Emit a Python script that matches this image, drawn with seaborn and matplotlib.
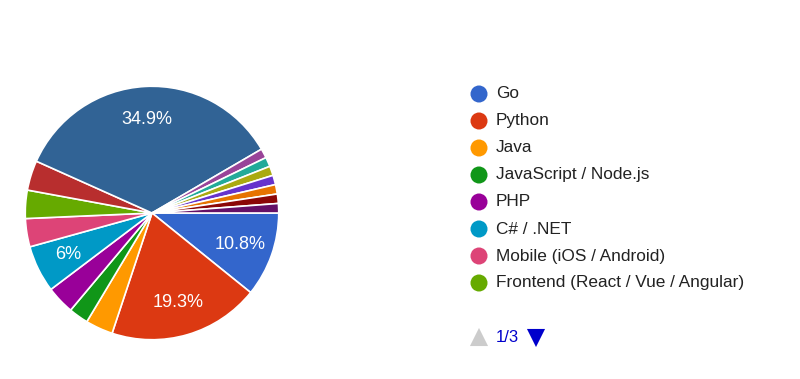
import matplotlib
matplotlib.use("Agg")
import matplotlib.pyplot as plt
import seaborn as sns

# Dados (percentuais, sentido horário a partir das 3 horas)
categorias = [
    "Go", "Python", "Java", "JavaScript / Node.js", "PHP", "C# / .NET",
    "Mobile (iOS / Android)", "Frontend (React / Vue / Angular)",
    "Outro 9", "Outro 10", "Outro 11", "Outro 12", "Outro 13",
    "Outro 14", "Outro 15", "Outro 16", "Outro 17",
]
valores = [10.8, 19.3, 3.5, 2.5, 3.6, 6.0, 3.6, 3.6, 3.8, 34.9,
           1.2, 1.2, 1.2, 1.2, 1.2, 1.2, 1.2]
cores = ["#3366cc", "#dc3912", "#ff9900", "#109618", "#990099", "#0099c6",
         "#dd4477", "#66aa00", "#b82e2e", "#316395", "#994499", "#22aa99",
         "#aaaa11", "#6633cc", "#e67300", "#8b0707", "#651067"]
n_legenda = 8
pagina = "1/3"

sns.set_theme(style="white")
plt.rcParams["font.family"] = ["Liberation Sans", "DejaVu Sans"]

fig = plt.figure(figsize=(8, 3.79), dpi=100)

# Pizza
ax = fig.add_axes([24 / 800, 38 / 379, 256 / 800, 256 / 379])


def rotulo(p):
    if p < 5:
        return ""
    return f"{p:.1f}%" if abs(p - round(p)) > 0.05 else f"{p:.0f}%"


wedges, _, autotexts = ax.pie(
    valores, colors=cores, startangle=0, counterclock=False,
    autopct=rotulo, pctdistance=0.74,
    wedgeprops=dict(edgecolor="white", linewidth=1.2),
    textprops=dict(color="white", fontsize=13),
)
ax.set_xlim(-1.01, 1.01)
ax.set_ylim(-1.01, 1.01)
ax.set_aspect("equal")

# Legenda (primeira página)
lax = fig.add_axes([0, 0, 1, 1])
lax.set_xlim(0, 800)
lax.set_ylim(379, 0)
lax.axis("off")
y0, dy = 94, 27
for i in range(n_legenda):
    y = y0 + i * dy
    lax.scatter([479], [y], s=150, color=cores[i], edgecolors="none")
    lax.text(496, y, categorias[i], fontsize=12.4, color="#222222", va="center")

yp = 337
lax.scatter([479], [yp], marker="^", s=170, color="#cccccc", edgecolors="none")
lax.text(496, yp, pagina, fontsize=12, color="#0000cc", va="center")
lax.scatter([536], [yp + 1], marker="v", s=170, color="#0000cc", edgecolors="none")

fig.savefig("out.png", dpi=100)
